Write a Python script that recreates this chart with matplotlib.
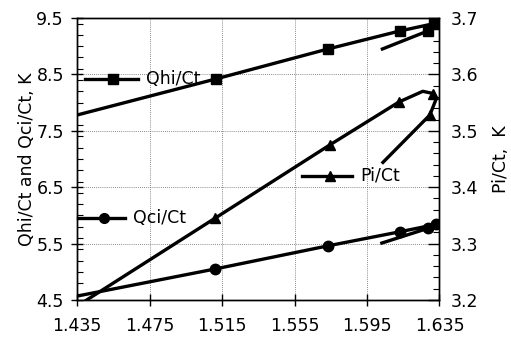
import matplotlib
matplotlib.use("Agg")
import matplotlib.pyplot as plt
from matplotlib.ticker import MultipleLocator

plt.rcParams['font.family'] = ['DejaVu Sans']

# Qhi/Ct (left axis), squares
qhi_x = [1.435, 1.5117, 1.5734, 1.6132, 1.6320, 1.6286, 1.6035]
qhi_y = [7.78, 8.42, 8.95, 9.27, 9.40, 9.27, 8.95]
qhi_marks = [1, 2, 3, 4, 5]

# Qci/Ct (left axis), circles
qci_x = [1.435, 1.5111, 1.5734, 1.6132, 1.6330, 1.6286, 1.6032]
qci_y = [4.57, 5.05, 5.46, 5.71, 5.84, 5.77, 5.51]
qci_marks = [1, 2, 3, 4, 5]

# Pi/Ct (right axis), triangles
pi_x = [1.4383, 1.5111, 1.5745, 1.6126, 1.6258, 1.6316, 1.6330, 1.6297, 1.6038]
pi_y = [3.196, 3.345, 3.475, 3.551, 3.570, 3.566, 3.555, 3.528, 3.444]
pi_marks = [1, 2, 3, 5, 7]

x_ticks = [1.435, 1.475, 1.515, 1.555, 1.595, 1.635]
left_ticks = [4.5, 5.5, 6.5, 7.5, 8.5, 9.5]
right_ticks = [3.2, 3.3, 3.4, 3.5, 3.6, 3.7]

fs = 12.5

fig = plt.figure(figsize=(5.11, 3.39), dpi=100)
ax = fig.add_axes([0.151, 0.115, 0.709, 0.832])
ax2 = ax.twinx()

lw = 2.4
ax.plot(qhi_x, qhi_y, color='black', lw=lw, marker='s', ms=7, markevery=qhi_marks)
ax.plot(qci_x, qci_y, color='black', lw=lw, marker='o', ms=7.5, markevery=qci_marks)
ax2.plot(pi_x, pi_y, color='black', lw=lw, marker='^', ms=7, markevery=pi_marks)

ax.set_xlim(1.435, 1.635)
ax.set_ylim(4.5, 9.5)
ax2.set_ylim(3.2, 3.7)

ax.set_xticks(x_ticks)
ax.set_xticklabels(['%.3f' % v for v in x_ticks])
ax.set_yticks(left_ticks)
ax.set_yticklabels(['%.1f' % v for v in left_ticks])
ax.yaxis.set_minor_locator(MultipleLocator(0.2))
ax2.set_yticks(right_ticks)
ax2.set_yticklabels(['%.1f' % v for v in right_ticks])
ax2.yaxis.set_minor_locator(MultipleLocator(0.02))

ax.grid(True, which='major', color='#666666', ls=(0, (1, 1.5)), lw=0.6)
ax.tick_params(axis='x', which='major', direction='inout', length=8, width=1,
               labelsize=fs, pad=8)
ax.tick_params(axis='y', which='major', direction='inout', length=9, width=1,
               labelsize=fs, pad=5)
ax.tick_params(axis='y', which='minor', direction='in', length=4, width=0.8)
ax2.tick_params(axis='y', which='major', direction='in', length=8, width=1,
                labelsize=fs, pad=8)
ax2.tick_params(axis='y', which='minor', direction='in', length=4, width=0.8)

for a in (ax, ax2):
    for s in a.spines.values():
        s.set_linewidth(1.0)

ax.set_ylabel('Qhi/Ct and Qci/Ct, K', fontsize=fs, labelpad=0)
ax2.set_ylabel('Pi/Ct,  K', fontsize=fs, labelpad=10)

# inline legend keys
keys = [
    ('Qhi/Ct', 's', 0.022, 0.168, 0.099, 0.19, 0.784),
    ('Qci/Ct', 'o', 0.003, 0.132, 0.074, 0.155, 0.291),
    ('Pi/Ct', '^', 0.621, 0.759, 0.698, 0.781, 0.44),
]
for label, mk, x0, x1, xm, xt, y in keys:
    ax.plot([x0, x1], [y, y], color='black', lw=lw, transform=ax.transAxes, clip_on=False)
    ax.plot([xm], [y], color='black', marker=mk, ms=7, transform=ax.transAxes, clip_on=False)
    ax.text(xt, y, label, transform=ax.transAxes, fontsize=fs, va='center', ha='left')

fig.savefig('out.png', dpi=100)
